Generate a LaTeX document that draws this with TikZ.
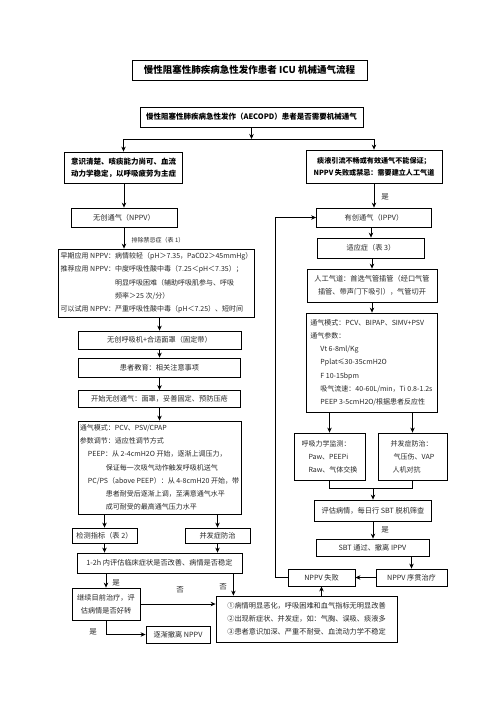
\documentclass[tikz,border=0pt]{standalone}
\usepackage{fontspec}
\setmainfont{Noto Sans CJK SC}
\usepackage{tikz}
\usetikzlibrary{arrows.meta}
\tikzset{
  copd box/.style={
    draw,
    line width=0.8pt,
    inner sep=2pt,
    align=center,
    text=black!85,
    font=\fontsize{7.2}{13.2}\selectfont
  },
  copd bold/.style={
    copd box,
    text=black,
    font=\bfseries\fontsize{7.5}{12}\selectfont
  },
  copd list/.style={
    copd box,
    align=left
  },
  copd tag/.style={
    inner sep=1pt,
    text=black!85,
    font=\fontsize{7.5}{9}\selectfont
  },
  copd arr/.style={-{Stealth[length=5pt, width=4.5pt]}, line width=0.8pt},
  copd line/.style={line width=0.8pt}
}

\begin{document}
\begin{tikzpicture}[x=1pt, y=-1pt]
  \useasboundingbox (0,0) rectangle (496,702);

  \node[copd bold, minimum width=235pt, minimum height=20pt,
        font=\bfseries\fontsize{9.5}{11}\selectfont] (title) at (249.5,70)
    {慢性阻塞性肺疾病急性发作患者 ICU 机械通气流程};
  \node[copd bold, minimum width=223pt, minimum height=20pt] (ask) at (251.5,117)
    {慢性阻塞性肺疾病急性发作（AECOPD）患者是否需要机械通气};
  \coordinate (fork) at (251.5,139);

  % non-invasive branch
  \node[copd bold, minimum width=118pt, minimum height=31pt] (mild) at (123.5,167.5)
    {意识清楚、咳痰能力尚可、血流\\动力学稳定，以呼吸疲劳为主症};
  \node[copd box, minimum width=106pt, minimum height=19pt] (nppv) at (124,217.5)
    {无创通气（NPPV）};
  \node[copd tag, font=\fontsize{6}{7}\selectfont] (rule1) at (158,240)
    {排除禁忌症（表 1）};
  \node[copd list, minimum width=195pt, minimum height=68pt,
        font=\fontsize{7}{13.3}\selectfont] (nppvuse) at (156.5,283)
    {早期应用 NPPV：病情较轻（pH＞7.35，PaCO2＞45mmHg）\\
     推荐应用 NPPV：中度呼吸性酸中毒（7.25＜pH＜7.35）；\\
     \phantom{推荐应用 NPPV：}明显呼吸困难（辅助呼吸肌参与、呼吸\\
     \phantom{推荐应用 NPPV：}频率＞25 次/分）\\
     可以试用 NPPV：严重呼吸性酸中毒（pH＜7.25）、短时间};
  \node[copd box, minimum width=163pt, minimum height=18pt] (mask) at (159.5,340)
    {无创呼吸机+合适面罩（固定带）};
  \node[copd box, minimum width=162pt, minimum height=19pt] (teach) at (159.5,367.5)
    {患者教育：相关注意事项};
  \node[copd box, minimum width=162pt, minimum height=17pt] (start) at (159.5,399)
    {开始无创通气：面罩，妥善固定、预防压疮};
  \node[copd list, minimum width=162pt, minimum height=93pt,
        font=\fontsize{7}{13.2}\selectfont] (nsetting) at (159.5,467.5)
    {通气模式：PCV、PSV/CPAP\\
     参数调节：适应性调节方式\\
     \hspace{8pt}PEEP：从 2-4cmH2O 开始，逐渐上调压力，\\
     \hspace{26pt}保证每一次吸气动作触发呼吸机送气\\
     \hspace{8pt}PC/PS（above PEEP）：从 4-8cmH20 开始，带\\
     \hspace{26pt}患者耐受后逐渐上调，至满意通气水平\\
     \hspace{26pt}成可耐受的最高通气压力水平};
  \node[copd box, minimum width=65pt, minimum height=15pt] (monitor) at (104.5,535.5)
    {检测指标（表 2）};
  \node[copd box, minimum width=65pt, minimum height=15pt] (ncomp) at (217.5,535.5)
    {并发症防治};
  \node[copd box, minimum width=165pt, minimum height=20pt] (check2h) at (159.5,563)
    {1-2h 内评估临床症状是否改善、病情是否稳定};
  \node[copd box, minimum width=68pt, minimum height=32pt] (goon) at (106,604)
    {继续目前治疗，评\\估病情是否好转};
  \node[copd box, minimum width=64pt, minimum height=17pt] (wean) at (178,634.5)
    {逐渐撤离 NPPV};
  \node[copd list, minimum width=181pt, minimum height=46pt,
        font=\fontsize{7.2}{13}\selectfont] (worse) at (306.5,619)
    {①病情明显恶化，呼吸困难和血气指标无明显改善\\
     ②出现新症状、并发症，如：气胸、误吸、痰液多\\
     ③患者意识加深、严重不耐受、血流动力学不稳定};

  % invasive branch
  \node[copd bold, minimum width=136pt, minimum height=33pt,
        font=\bfseries\fontsize{7.1}{12}\selectfont] (severe) at (374,166.5)
    {痰液引流不畅或有效通气不能保证；\\NPPV 失败或禁忌：需要建立人工气道};
  \node[copd box, minimum width=115pt, minimum height=19pt] (ippv) at (374,217.5)
    {有创通气（IPPV）};
  \node[copd box, minimum width=107pt, minimum height=20pt] (indic) at (371,248)
    {适应症（表 3）};
  \node[copd box, minimum width=130pt, minimum height=33pt] (tube) at (372,285.5)
    {人工气道：首选气管插管（经口气管\\插管、带声门下吸引），气管切开};
  \node[copd list, minimum width=131pt, minimum height=99pt,
        font=\fontsize{7}{13.2}\selectfont] (isetting) at (371.5,362.5)
    {通气模式：PCV、BIPAP、SIMV+PSV\\
     通气参数：\\
     \hspace{10pt}Vt 6-8ml/Kg\\
     \hspace{10pt}Pplat≤30-35cmH2O\\
     \hspace{10pt}F 10-15bpm\\
     \hspace{10pt}吸气流速：40-60L/min，Ti 0.8-1.2s\\
     \hspace{10pt}PEEP 3-5cmH2O/根据患者反应性};
  \node[copd list, minimum width=71pt, minimum height=47pt,
        font=\fontsize{7}{13}\selectfont] (mech) at (329.5,456.5)
    {呼吸力学监测：\\\hspace{7pt}Paw、PEEPi\\\hspace{7pt}Raw、气体交换};
  \node[copd list, minimum width=69pt, minimum height=47pt,
        font=\fontsize{7}{13}\selectfont] (icomp) at (412.5,456.5)
    {并发症防治：\\\hspace{3pt}气压伤、VAP\\\hspace{2pt}人机对抗};
  \node[copd box, minimum width=117pt, minimum height=21pt] (screen) at (373,510.5)
    {评估病情，每日行 SBT 脱机筛查};
  \node[copd box, minimum width=113pt, minimum height=17pt] (sbt) at (372.5,547.5)
    {SBT 通过、撤离 IPPV};
  \node[copd box, minimum width=71pt, minimum height=17pt] (seq) at (411.5,577.5)
    {NPPV 序贯治疗};
  \node[copd box, minimum width=67pt, minimum height=17pt] (fail) at (321.5,577.5)
    {NPPV 失败};
  \coordinate (back) at (275,577.5);

  % labels
  \node[copd tag] (yes1) at (385,197) {是};
  \node[copd tag] (yes2) at (116,583) {是};
  \node[copd tag] (no1) at (223,587) {否};
  \node[copd tag] (no2) at (180,590) {否};
  \node[copd tag] (yes3) at (93,632) {是};
  \node[copd tag] (yes4) at (385,530) {是};

  % connectors
  \draw[copd arr] (ask.south) -- (fork);
  \draw[copd line] (mild.north |- fork) -- (severe.north |- fork);
  \draw[copd arr] (mild.north |- fork) -- (mild.north);
  \draw[copd arr] (severe.north |- fork) -- (severe.north);

  \draw[copd arr] (nppv.north |- mild.south) -- (nppv.north);
  \draw[copd arr] (nppv.south) -- (nppv.south |- nppvuse.north);
  \draw[copd arr] (mask.north |- nppvuse.south) -- (mask.north);
  \draw[copd arr] (mask.south) -- (teach.north);
  \draw[copd arr] (teach.south) -- (start.north);
  \draw[copd arr] (start.south) -- (nsetting.north);
  \draw[copd arr] (monitor.north |- nsetting.south) -- (monitor.north);
  \draw[copd arr] (ncomp.north |- nsetting.south) -- (ncomp.north);
  \draw[copd arr] (monitor.south) -- (monitor.south |- check2h.north);
  \draw[copd arr] (ncomp.south) -- (ncomp.south |- check2h.north);
  \draw[copd arr] (goon.north |- check2h.south) -- (goon.north);
  \draw[copd arr] ([xshift=-9pt]check2h.south east) -- ([xshift=-9pt]check2h.south east |- worse.north);
  \draw[copd arr] (goon.east) -- (goon.east -| worse.west);
  \draw[copd arr] (goon.south) |- (wean.west);

  \draw[copd arr] (severe.south) -- (severe.south |- ippv.north);
  \draw[copd arr] (indic.north |- ippv.south) -- (indic.north);
  \draw[copd arr] (tube.north |- indic.south) -- (tube.north);
  \draw[copd arr] (tube.south) -- (tube.south |- isetting.north);
  \draw[copd arr] (mech.north |- isetting.south) -- (mech.north);
  \draw[copd arr] (icomp.north |- isetting.south) -- (icomp.north);
  \draw[copd line] (mech.south) -- ++(0,8) coordinate (join) -| (icomp.south);
  \draw[copd arr] (screen.north |- join) -- (screen.north);
  \draw[copd arr] (screen.south) -- (screen.south |- sbt.north);
  \draw[copd arr] (seq.north |- sbt.south) -- (seq.north);
  \draw[copd arr] (seq.west) -- (fail.east);
  \draw[copd arr] (fail.south |- worse.north) -- (fail.south);
  \draw[copd arr] (fail.west) -- (back) |- (ippv.west);
\end{tikzpicture}
\end{document}
